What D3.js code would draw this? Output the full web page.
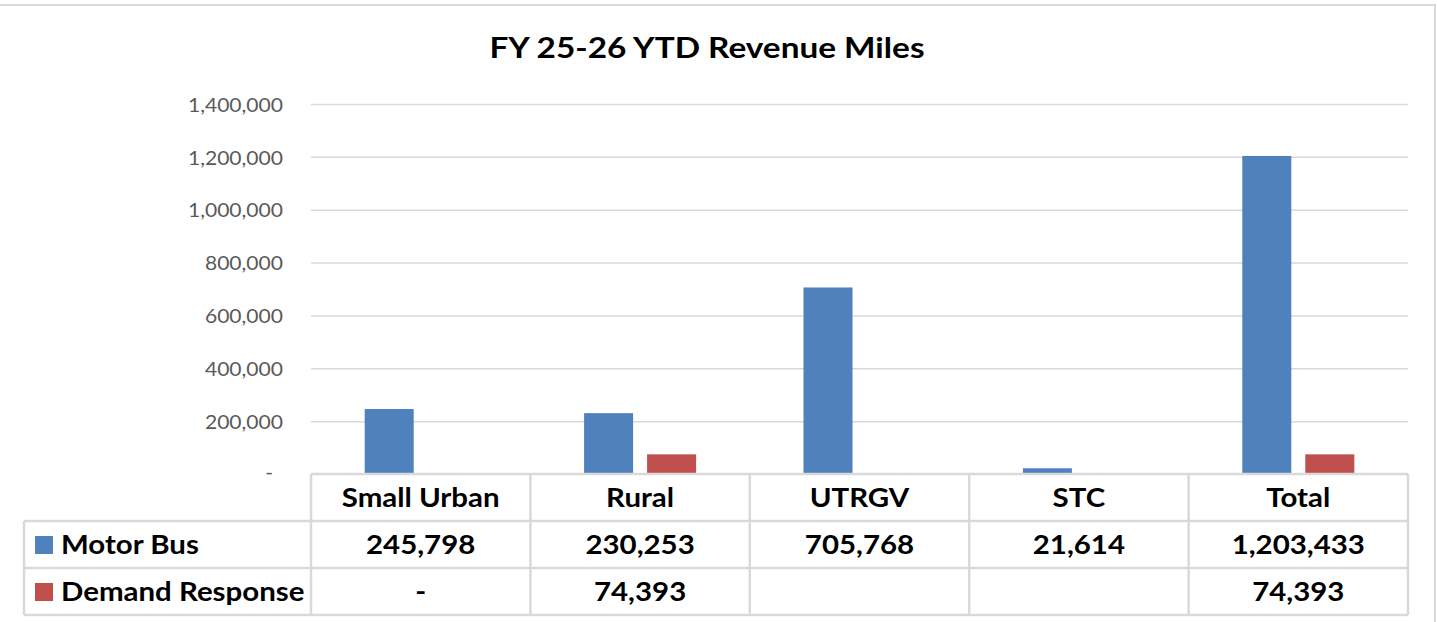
<!DOCTYPE html>
<html>
<head>
<meta charset="utf-8">
<script src="https://cdn.jsdelivr.net/npm/d3@7"></script>
<style>
  html, body { margin: 0; padding: 0; background: #fff; }
  svg { display: block; }
  text { font-family: Lato, "Open Sans", sans-serif; }
</style>
</head>
<body>
<svg id="chart" width="1437" height="622"></svg>
<script>
// Revenue miles by service area, fiscal year to date
const categories = ["Small Urban", "Rural", "UTRGV", "STC", "Total"];
const seriesNames = ["Motor Bus", "Demand Response"];
const motorBus = [245798, 230253, 705768, 21614, 1203433];
const demandResponse = [0, 74393, null, null, 74393];
const yTicks = [0, 200000, 400000, 600000, 800000, 1000000, 1200000, 1400000];
const colors = ["#4F81BD", "#C0504D"];

const svg = d3.select("#chart");
const H = 622;

const plot = { left: 311, right: 1408, top: 104, bottom: 474 };
const rowH = 47;
const tableLeft = 24;
const gridColor = "#d9d9d9";

// widen glyphs horizontally by a factor, keeping their height
function widen(sel, factor) {
  sel.each(function () {
    const len = this.getComputedTextLength();
    if (len > 0) {
      d3.select(this).attr("textLength", len * factor).attr("lengthAdjust", "spacingAndGlyphs");
    }
  });
}

// chart frame
svg.append("rect")
  .attr("x", -10).attr("y", 5)
  .attr("width", 1435 + 10).attr("height", H + 20)
  .attr("fill", "#fff").attr("stroke", gridColor).attr("stroke-width", 2);

// title
svg.append("text")
  .attr("x", 707).attr("y", 58)
  .attr("text-anchor", "middle")
  .attr("font-size", 28).attr("font-weight", 700).attr("fill", "#000")
  .text("FY 25-26 YTD Revenue Miles")
  .call(widen, 1.19);

const series = seriesNames.map((name, i) => ({
  name, color: colors[i], values: i === 0 ? motorBus : demandResponse
}));

const x = d3.scaleBand().domain(categories).range([plot.left, plot.right]).padding(0);
const xInner = d3.scaleBand().domain(seriesNames)
  .range([0, x.bandwidth()]).paddingInner(0.222).paddingOuter(0.852);
const y = d3.scaleLinear().domain([0, 1400000]).range([plot.bottom, plot.top]);

// gridlines and value axis
const fmt = d3.format(",");
const yAxis = svg.append("g")
  .attr("transform", `translate(${plot.left},0)`)
  .call(d3.axisLeft(y).tickValues(yTicks)
    .tickSize(-(plot.right - plot.left)).tickPadding(28)
    .tickFormat(d => d === 0 ? "-" : fmt(d)));
yAxis.select(".domain").remove();
yAxis.selectAll(".tick line")
  .attr("stroke", gridColor).attr("stroke-width", 1.5)
  .attr("stroke-opacity", d => d === 0 ? 0 : 1);
yAxis.selectAll(".tick text")
  .attr("font-size", 19.5).attr("fill", "#595959")
  .attr("font-family", "Lato, 'Open Sans', sans-serif")
  .attr("dx", d => d === 0 ? -10 : 0)
  .attr("dy", d => d === 0 ? "0.25em" : "0.37em")
  .call(widen, 1.08);

// bars
const groups = svg.append("g").selectAll("g")
  .data(series).join("g").attr("fill", d => d.color);
groups.selectAll("rect")
  .data(s => categories.map((c, j) => ({ c, s: s.name, v: s.values[j] })).filter(d => d.v))
  .join("rect")
  .attr("x", d => x(d.c) + xInner(d.s))
  .attr("width", xInner.bandwidth())
  .attr("y", d => y(d.v))
  .attr("height", d => y(0) - y(d.v));

// data table
const tbl = svg.append("g");
const rowTop = [plot.bottom, plot.bottom + rowH, plot.bottom + 2 * rowH];
const tableBottom = plot.bottom + 3 * rowH;
const lineStyle = sel => sel.attr("stroke", gridColor).attr("stroke-width", 2.5);

// horizontal rules
tbl.append("line").attr("x1", plot.left).attr("x2", plot.right)
  .attr("y1", rowTop[0]).attr("y2", rowTop[0]).call(lineStyle);
[rowTop[1], rowTop[2], tableBottom].forEach(yy =>
  tbl.append("line").attr("x1", tableLeft).attr("x2", plot.right)
    .attr("y1", yy).attr("y2", yy).call(lineStyle));
// vertical rules
tbl.append("line").attr("x1", tableLeft).attr("x2", tableLeft)
  .attr("y1", rowTop[1]).attr("y2", tableBottom).call(lineStyle);
categories.concat([null]).forEach(c => {
  const xx = c === null ? plot.right : x(c);
  tbl.append("line").attr("x1", xx).attr("x2", xx)
    .attr("y1", rowTop[0]).attr("y2", tableBottom).call(lineStyle);
});

const cellText = (xx, yy, t, anchor) => tbl.append("text")
  .attr("x", xx).attr("y", yy)
  .attr("text-anchor", anchor || "middle")
  .attr("font-size", 27).attr("font-weight", 700).attr("fill", "#000")
  .text(t)
  .call(widen, 1.09);

// category header row
categories.forEach(c => cellText(x(c) + x.bandwidth() / 2, rowTop[0] + 33, c));

// series rows with legend keys
series.forEach((s, i) => {
  const top = rowTop[i + 1];
  tbl.append("rect").attr("x", 35).attr("y", top + 15)
    .attr("width", 18).attr("height", 18).attr("fill", s.color);
  cellText(61, top + 33, s.name, "start");
  s.values.forEach((v, j) => {
    if (v === null) return;
    cellText(x(categories[j]) + x.bandwidth() / 2, top + 33, v === 0 ? "-" : fmt(v));
  });
});
</script>
</body>
</html>
